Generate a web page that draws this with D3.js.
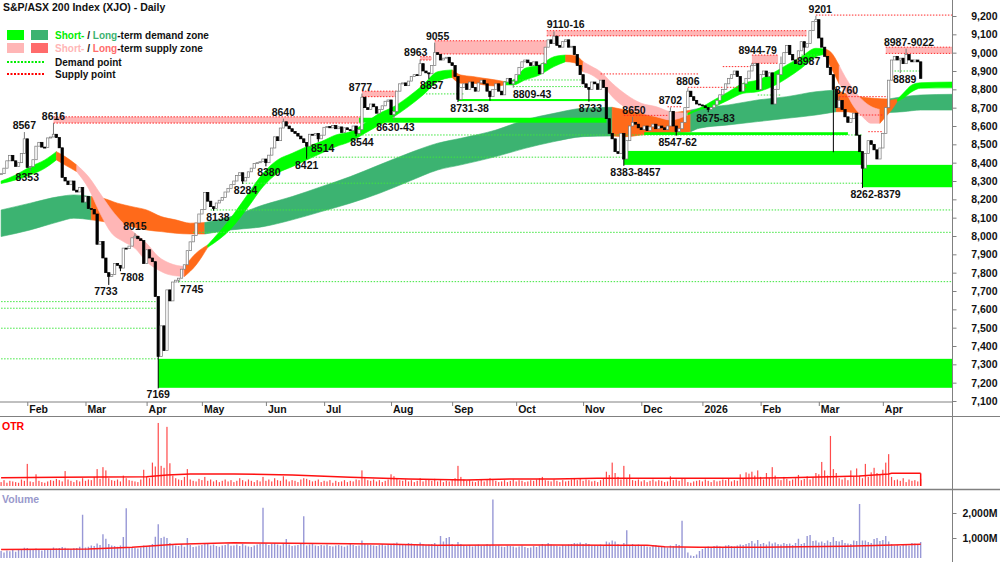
<!DOCTYPE html>
<html><head><meta charset="utf-8">
<script src="https://cdn.jsdelivr.net/npm/d3@7"></script>
<style>
body{margin:0;background:#fff;}
svg{display:block;font-family:Arial,"Liberation Sans",Helvetica,sans-serif;}
</style></head><body>
<svg id="c" width="1000" height="562"></svg>
<script>
// ---------------- DATA ----------------
const title = "S&P/ASX 200 Index (XJO) - Daily";
const monthLabels = ["Feb","Mar","Apr","May","Jun","Jul","Aug","Sep","Oct","Nov","Dec","2026","Feb","Mar","Apr"];
const monthIdx    = [9,29,50,69,91,111,134,155,177,200,220,241,261,281,303];
const priceTicks = [7100,7200,7300,7400,7500,7600,7700,7800,7900,8000,8100,8200,8300,8400,8500,8600,8700,8800,8900,9000,9100,9200];
const volTicks = [1000,2000];

// daily closes (trading-day index 0 = 20 Jan 2025)
const closes = [
8340,8370,8410,8440,8410,8380,8400,8450,8530,8374,
8379,8416,8490,8511,8485,8482,8535,8540,8555,8537,
8481,8320,8300,8280,8300,8250,8240,8265,8185,
8215,8150,8145,8120,7955,7970,7880,7800,7780,7790,7850,
7840,7825,7934,7931,7945,7990,7999,7985,7975,7850,
7925,7880,7860,7670,7343,7510,7375,7706,7646,7749,
7759,7770,7819,7843,7920,7968,8003,8071,8120,
8145,8238,8190,8160,8150,8180,8195,8210,8240,8260,8280,
8300,8330,8345,8300,8320,8350,8370,8395,8400,8405,8420,
8400,8441,8480,8541,8520,8589,8623,8600,8585,8570,
8560,8545,8530,8510,8490,8555,8550,8560,8530,8550,
8593,8597,8590,8603,8585,8595,8565,8590,8580,8575,
8600,8560,8580,8757,8700,8690,8720,8705,8670,8690,
8710,8735,8742,8662,8680,8790,8830,8835,8820,8845,
8870,8880,8875,8940,8900,8890,8885,8930,9000,8990,
8960,8970,8975,8945,8930,8870,8745,8810,8830,8800,
8840,8810,8790,8835,8850,8830,8790,8760,8800,8830,
8790,8770,8840,8860,8830,8845,8880,8920,8950,8960,
8945,8930,8950,8930,8885,8940,9030,9070,9050,9090,
9040,9030,9060,9070,9030,9035,8990,8930,8880,8830,
8810,8800,8840,8830,8800,8850,8810,8640,8560,8530,
8460,8450,8560,8420,8520,8600,8620,8610,8590,8580,
8600,8575,8595,8610,8585,8600,8590,8580,8600,8680,
8600,8570,8585,8620,8700,8790,8760,8740,8720,8715,
8710,8700,8690,8700,8715,8740,8770,8800,8830,8860,
8880,8900,8870,8790,8830,8860,8900,8930,8940,8800,
8880,8900,8870,8890,8720,8800,8880,8940,9000,9040,
8990,8960,8940,9010,9060,9030,9050,9120,9170,9180,
9080,9030,8980,8920,8880,8800,8700,8740,8690,8650,
8620,8640,8670,8550,8460,8370,8450,8520,8500,8470,
8420,8480,8560,8700,8850,8960,8980,8960,8970,8940,
8990,8960,8950,8960,8950,8860];

// notable wick extremes [index, low, high]
const extremes = [
[8,null,8567],[10,8353,null],[18,null,8616],[37,7733,null],[41,7808,null],[46,null,8015],
[54,7169,null],[61,7745,null],[73,8138,null],[83,8284,null],[91,8380,null],[97,null,8640],
[105,8421,null],[109,8514,null],[122,8544,null],[124,null,8777],[135,8630,null],[144,null,8963],
[147,8857,null],[149,null,9055],[157,8731,null],[168,8738,null],[176,8809,null],[190,null,9116],
[202,8733,null],[214,8383,null],[217,null,8650],[230,null,8702],[232,8547,null],[236,null,8806],
[243,8675,null],[258,null,8944],[268,null,8979],[276,8987,null],[280,null,9201],[286,8457,null],
[288,null,8760],[296,8262,null],[311,null,9022],[309,8889,null]];

// price annotations [text, index, value, side a=above b=below]
const annotations = [
["8567",8,8567,"a"],["8616",18,8616,"a"],["8353",9,8353,"b"],["8015",46,8015,"a"],["7733",36,7733,"b"],
["7808",45,7808,"b"],["7745",65.5,7745,"b"],["7169",54,7169,"b"],["8138",74.5,8138,"b"],["8284",84,8284,"b"],
["8380",92,8380,"b"],["8640",97,8640,"a"],["8421",105,8421,"b"],["8514",110.5,8514,"b"],["8544",124,8544,"b"],
["8777",123.5,8777,"a"],["8630-43",135.5,8630,"b"],["8963",142.5,8963,"a"],["8857",148,8857,"b"],["9055",150,9055,"a"],
["8731-38",161,8731,"b"],["8809-43",182.5,8809,"b"],["9110-16",194,9116,"a"],["8733",202.5,8733,"b"],["8650",217.5,8650,"a"],
["8383-8457",218,8383,"b"],["8702",230,8702,"a"],["8806",236,8806,"a"],["8547-62",232.5,8547,"b"],["8675-83",245.5,8675,"b"],
["8944-79",260,8979,"a"],["8987",277.5,8987,"b"],["9201",281.5,9201,"a"],["8760",290.5,8760,"a"],["8262-8379",300.5,8262,"b"],
["8987-9022",312,9022,"a"],["8889",310.5,8889,"b"]];

// short-term ribbon samples
const shortIdx = [0,5,10,15,19,22,26,30,34,38,42,46,50,54,58,63,67,71,79,85,90,95,100,105,110,115,120,125,130,135,140,145,150,155,158,162,166,170,173,176,180,185,190,194,197,200,203,206,210,215,220,225,230,236,240,245,250,255,260,265,270,275,280,283,285,288,290,293,296,299,302,304,306,308,310,313,316,327];
const shortTop = [8300,8333,8378,8415,8460,8433,8387,8324,8233,8142,8069,8015,7960,7888,7851,7833,7906,7951,8100,8233,8342,8415,8451,8487,8515,8551,8569,8615,8669,8706,8760,8824,8896,8906,8878,8870,8860,8851,8842,8851,8915,8933,8978,8987,8985,8951,8924,8896,8833,8769,8724,8706,8678,8670,8697,8742,8787,8833,8851,8887,8933,8978,9024,9020,9005,8930,8870,8797,8742,8706,8690,8733,8742,8745,8778,8824,8836,8840];
const shortBot = [8286,8306,8333,8369,8415,8387,8351,8260,8124,8015,7970,7933,7860,7815,7788,7779,7842,7938,8040,8160,8269,8342,8378,8415,8451,8487,8515,8560,8606,8651,8706,8769,8842,8865,8833,8833,8824,8818,8824,8824,8851,8878,8924,8951,8945,8896,8878,8842,8760,8697,8669,8651,8633,8660,8688,8706,8742,8778,8787,8815,8860,8915,8978,8990,8924,8830,8790,8706,8651,8615,8615,8651,8687,8735,8751,8787,8806,8808];
const shortState = "uuuu"+"nn"+"ddddddddd"+"nn"+"uuuuuuuuuuuuuuuu"+"nnnnn"+"uuuuu"+"nn"+"dddddddd"+"uuuuuuuuuu"+"nn"+"ddddd"+"nnn"+"uuuu";

// long-term ribbon samples
const longIdx = [0,10,20,25,31,35,40,45,50,55,60,65,70,79,90,100,110,120,130,140,150,158,170,180,190,200,210,215,220,225,230,237,240,250,260,270,280,287,290,295,300,305,310,316,327];
const longTop = [8142,8179,8215,8224,8215,8206,8179,8160,8142,8106,8088,8070,8073,8106,8169,8215,8269,8324,8388,8451,8506,8533,8578,8633,8669,8697,8702,8687,8678,8673,8673,8687,8697,8715,8742,8760,8787,8796,8778,8760,8751,8747,8760,8769,8773];
const longBot = [7997,8033,8079,8097,8088,8079,8069,8051,8033,8024,8015,8011,8011,8033,8051,8088,8133,8179,8233,8297,8360,8388,8433,8478,8515,8542,8546,8542,8551,8557,8560,8569,8588,8606,8624,8642,8660,8678,8678,8669,8669,8673,8678,8687,8687];
const longState = "uuuu"+"nnnnnnnn"+"uuuuuuuuuuuuuu"+"nnnnn"+"uuuuuu"+"nnnn"+"uuu";

// zones [startIdx, endIdx (null = open), low, high]
const supplyZones = [[18,124,8616,8650],[124,136,8760,8790],[144,148,8960,8978],[149,187.5,8993,9065],[187.5,276.8,9092,9120],[258,267,8942,8987],[304,null,8996,9030]];
const demandZones = [[54,null,7172,7330],[123,208,8618,8645],[157,208,8736,8747],[221,291,8551,8566],[214,296,8388,8464],[296,null,8266,8388]];
// points [startIdx, endIdx (null = open), value]
const supplyPoints = [[280,null,9205],[206,240,8884],[236,256,8811],[248,258,8924],[229,234,8705],[214,229,8658],[287,305.5,8760],[293,303,8660],[298,303,8569]];
const demandPoints = [[0,54,7642],[0,54,7606],[0,54,7497],[0,54,7330],[61,null,7751],[66,null,8020],[72,null,8142],[83,null,8288],[105,296,8430],[122,296,8551],[176,200,8851],[176,200,8815],[146,159,8775],[260,268,8769],[275,281,8987],[306,316,8900]];

// OTR (relative units) per day
const otr = [
6,9,5,8,7,6,5,10,8,34,7,6,18,8,6,5,7,9,8,11,
9,7,23,10,8,6,9,7,12,8,10,9,14,26,11,29,24,12,9,8,
10,7,16,12,9,8,7,6,10,25,14,12,36,30,97,31,28,91,35,16,
12,10,9,14,26,10,8,7,11,9,14,8,10,7,9,6,8,10,7,9,
6,8,12,9,7,10,8,6,9,7,14,8,10,7,12,9,8,15,10,7,
9,8,6,10,12,11,9,7,8,10,6,8,7,9,5,8,6,7,9,6,
8,7,10,9,24,12,9,8,10,7,9,6,8,10,18,15,12,9,8,10,
7,9,6,8,12,7,9,10,8,11,7,9,6,8,7,9,12,31,14,10,
8,9,7,6,8,10,7,9,12,10,8,6,7,9,6,8,10,7,9,8,
6,7,9,8,10,12,14,9,8,7,10,8,6,9,7,8,10,12,9,11,
8,10,9,7,8,6,9,11,22,17,36,20,14,10,31,12,18,9,8,10,
7,9,6,8,10,7,9,8,6,7,15,9,10,8,12,11,6,5,7,8,
9,7,10,8,6,9,7,8,10,9,11,7,9,8,18,12,21,19,22,16,
24,14,10,20,12,29,16,10,9,14,11,8,10,12,17,9,11,15,10,14,
20,18,37,24,16,77,26,20,12,10,13,9,24,15,27,16,12,34,14,21,
28,20,18,25,36,49,14,9,10,8,12,6,10,8,9,7,11];
const otrAvgIdx = [0,20,50,57,65,80,100,120,140,160,175,190,205,220,235,255,270,285,295,305,306,316];
const otrAvgVal = [12.8,13.3,14.4,17,18.5,18.5,16.9,13.3,10.8,9.2,10.8,10.8,11.8,11.8,11.8,11.8,12.8,14.4,15.4,18.5,19.5,19.5];

// volume (millions) per day
const volume = [
480,420,500,470,520,450,540,560,610,
600,560,540,580,530,500,520,560,550,620,580,600,640,610,570,560,590,600,650,1930,
620,650,700,680,780,720,1150,970,760,700,680,650,700,1040,2190,640,620,600,580,620,700,
650,700,760,1050,1550,1000,1050,1000,800,720,700,680,760,650,1000,720,640,660,700,
720,780,760,700,740,680,650,700,720,760,690,700,740,680,760,700,660,640,700,740,760,2210,
780,720,760,800,740,700,780,960,740,680,700,720,780,1870,700,740,760,700,680,720,
700,740,680,660,700,720,690,650,700,760,720,680,700,900,760,740,720,700,680,720,760,700,740,
760,780,820,760,740,720,800,780,760,740,820,760,720,740,760,800,720,1080,860,1000,1040,
760,720,840,760,700,680,720,660,700,740,680,700,760,720,2540,680,700,660,640,700,680,660,
620,660,700,640,600,620,680,640,700,760,720,800,740,700,680,660,720,700,740,760,800,780,820,
760,800,760,700,720,680,740,700,860,820,900,860,760,720,800,1310,720,760,700,740,
680,700,660,640,700,720,680,640,660,620,700,680,760,720,1690,620,420,300,280,340,480,
560,620,660,640,680,700,660,640,700,720,680,660,700,740,720,760,800,880,780,920,
760,800,740,860,780,820,760,740,800,760,780,720,800,970,760,800,1080,1120,880,900,
820,860,800,900,840,1040,880,860,920,800,780,760,900,880,2360,900,900,840,800,960,1000,880,
920,1080,860,760,700,720,680,760,740,700,800,780,760,840];
const volAvgIdx = [0,30,45,60,80,100,130,150,172,190,210,222,228,240,260,275,290,300,316];
const volAvgVal = [540,560,630,750,810,790,760,710,720,720,710,710,650,630,630,650,670,700,750];

// ---------------- CHART ----------------
const svg = d3.select("#c");
const plotRight = 952;
const x = d3.scaleLinear().domain([-0.378, 326.77]).range([0, plotRight]);
const xEnd = x.domain()[1];
const xi = i => x(i == null ? xEnd : i);
const y = d3.scaleLinear().domain([7100, 9200]).range([401, 16]);
const oy = d3.scaleLinear().domain([0, 100]).range([486, 421]);
const vy = d3.scaleLinear().domain([0, 2000]).range([563, 513]);

const defs = svg.append("defs");
defs.append("clipPath").attr("id","mainClip").append("rect").attr("x",0).attr("y",0).attr("width",plotRight).attr("height",402);
defs.append("clipPath").attr("id","otrClip").append("rect").attr("x",0).attr("y",417).attr("width",plotRight).attr("height",70);
defs.append("clipPath").attr("id","volClip").append("rect").attr("x",0).attr("y",490).attr("width",plotRight).attr("height",68);

const main = svg.append("g").attr("clip-path","url(#mainClip)");

// ribbons
const ribbonColors = {u:null, n:"#ff6a1a", d:"#ffb6b6"};
function runs(idx, top, bot, states){
  const out=[]; let cur=null;
  for(let k=0;k<idx.length-1;k++){
    const s=states[k];
    if(!cur || cur.s!==s){ cur={s, pts:[{i:idx[k],t:top[k],b:bot[k]}]}; out.push(cur); }
    cur.pts.push({i:idx[k+1],t:top[k+1],b:bot[k+1]});
  }
  return out;
}
const area = d3.area().x(d=>x(d.i)).y0(d=>y(d.b)).y1(d=>y(d.t)).curve(d3.curveMonotoneX);
function drawRibbon(idx, top, bot, states, upColor){
  const g = main.append("g");
  runs(idx, top, bot, states).forEach(r=>{
    const col = r.s==="u" ? upColor : ribbonColors[r.s];
    g.append("path").attr("d", area(r.pts)).attr("fill", col).attr("stroke", col).attr("stroke-width",0.6);
  });
}
drawRibbon(longIdx, longTop, longBot, longState, "#3cb371");
drawRibbon(shortIdx, shortTop, shortBot, shortState, "#00ff00");

// dotted point lines
const pointsG = main.append("g");
demandPoints.forEach(([a,b,v])=>{
  pointsG.append("line").attr("x1",xi(a)).attr("x2",xi(b)).attr("y1",y(v)).attr("y2",y(v))
    .attr("stroke","#3ee63e").attr("stroke-width",1).attr("stroke-dasharray","1.5,1.5");
});
supplyPoints.forEach(([a,b,v])=>{
  pointsG.append("line").attr("x1",xi(a)).attr("x2",xi(b)).attr("y1",y(v)).attr("y2",y(v))
    .attr("stroke","#ff2a2a").attr("stroke-width",1).attr("stroke-dasharray","1.5,1.5");
});

// zones
const zonesG = main.append("g");
supplyZones.forEach(([a,b,lo,hi])=>{
  zonesG.append("rect").attr("x",xi(a)).attr("width",xi(b)-xi(a)).attr("y",y(hi)).attr("height",y(lo)-y(hi)).attr("fill","#ffb6b6");
  [lo,hi].forEach(v=>zonesG.append("line").attr("x1",xi(a)).attr("x2",xi(b)).attr("y1",y(v)).attr("y2",y(v))
    .attr("stroke","#ff2a2a").attr("stroke-width",1).attr("stroke-dasharray","1.5,1.5"));
});
demandZones.forEach(([a,b,lo,hi])=>{
  zonesG.append("rect").attr("x",xi(a)).attr("width",xi(b)-xi(a)).attr("y",y(hi)).attr("height",Math.max(1.5,y(lo)-y(hi))).attr("fill","#00ff00");
});

// candles
const candles = closes.map((c,i)=>{ const o = i ? closes[i-1] : c; return {i,o,c,hi:Math.max(o,c),lo:Math.min(o,c)}; });
extremes.forEach(([i,l,h])=>{ const d=candles[i]; if(!d) return; if(l!=null) d.lo=Math.min(d.lo,l); if(h!=null) d.hi=Math.max(d.hi,h); });
const cg = main.append("g");
cg.selectAll("line").data(candles).join("line")
  .attr("x1",d=>x(d.i)).attr("x2",d=>x(d.i)).attr("y1",d=>y(d.hi)).attr("y2",d=>y(d.lo))
  .attr("stroke",d=>d.c>=d.o?"#7a7a7a":"#000").attr("stroke-width",1);
cg.selectAll("rect").data(candles).join("rect")
  .attr("x",d=>x(d.i)-1.2).attr("width",2.4)
  .attr("y",d=>y(Math.max(d.o,d.c))).attr("height",d=>Math.max(1,Math.abs(y(d.o)-y(d.c))))
  .attr("fill",d=>d.c>=d.o?"#fff":"#000").attr("stroke",d=>d.c>=d.o?"#7a7a7a":"#000").attr("stroke-width",0.7);

// annotations
const annG = svg.append("g").attr("font-size","10.5px").attr("font-weight","bold").attr("fill","#111").attr("text-anchor","middle");
annotations.forEach(([t,i,v,side])=>{
  annG.append("text").attr("x",x(i)).attr("y", side==="a" ? y(v)-3 : y(v)+10).text(t);
});

// ---------- axes & frame ----------
const frame = svg.append("g").attr("stroke","#808080");
frame.append("line").attr("x1",0).attr("x2",plotRight).attr("y1",402).attr("y2",402);
frame.append("line").attr("x1",0).attr("x2",1000).attr("y1",416.5).attr("y2",416.5).attr("stroke-width",1.2);
frame.append("line").attr("x1",0).attr("x2",1000).attr("y1",489.5).attr("y2",489.5).attr("stroke-width",1.5);
frame.append("line").attr("x1",plotRight+0.5).attr("x2",plotRight+0.5).attr("y1",0).attr("y2",562);

const yAx = svg.append("g").attr("transform",`translate(${plotRight+0.5},0)`)
  .call(d3.axisRight(y).tickValues(priceTicks).tickSize(4).tickFormat(d3.format(",")));
yAx.select(".domain").remove();
yAx.selectAll("line").attr("stroke","#808080");
yAx.selectAll("text").attr("x",45).attr("text-anchor","end").attr("font-size","10.5px").attr("font-weight","bold").attr("fill","#111").attr("font-family","Arial, Liberation Sans, sans-serif");

const xAx = svg.append("g").attr("transform","translate(0,402)")
  .call(d3.axisBottom(x).tickValues(monthIdx).tickSize(4).tickFormat((d,k)=>monthLabels[k]));
xAx.select(".domain").remove();
xAx.selectAll("line").attr("stroke","#808080");
xAx.selectAll("text").attr("x",1.5).attr("y",4).attr("text-anchor","start").attr("font-size","10.5px").attr("font-weight","bold").attr("fill","#111").attr("font-family","Arial, Liberation Sans, sans-serif");

const vAx = svg.append("g").attr("transform",`translate(${plotRight+0.5},0)`)
  .call(d3.axisRight(vy).tickValues(volTicks).tickSize(4).tickFormat(d=>d3.format(",")(d)+"M"));
vAx.select(".domain").remove();
vAx.selectAll("line").attr("stroke","#808080");
vAx.selectAll("text").attr("x",45).attr("text-anchor","end").attr("font-size","10.5px").attr("font-weight","bold").attr("fill","#111").attr("font-family","Arial, Liberation Sans, sans-serif");

// ---------- OTR panel ----------
const og = svg.append("g").attr("clip-path","url(#otrClip)");
og.selectAll("rect").data(otr.slice(0,closes.length)).join("rect")
  .attr("x",(d,i)=>x(i)-0.6).attr("width",1.2).attr("y",d=>oy(d)).attr("height",d=>oy(0)-oy(d)).attr("fill","#ff4a4a");
const otrAvg = otrAvgIdx.map((i,k)=>({i,v:otrAvgVal[k]}));
og.append("path").attr("d",d3.line().x(d=>x(d.i)).y(d=>oy(d.v))(otrAvg)).attr("fill","none").attr("stroke","#ff1010").attr("stroke-width",1.5);
const lastO = otrAvg[otrAvg.length-1];
og.append("line").attr("x1",x(lastO.i)).attr("x2",x(lastO.i)).attr("y1",oy(lastO.v)).attr("y2",oy(0)).attr("stroke","#ff1010").attr("stroke-width",1.5);
svg.append("text").attr("x",2).attr("y",430).text("OTR").attr("fill","#ff0000").attr("font-size","10.5px").attr("font-weight","bold");

// ---------- Volume panel ----------
const vg = svg.append("g").attr("clip-path","url(#volClip)");
vg.selectAll("rect").data(volume.slice(0,closes.length)).join("rect")
  .attr("x",(d,i)=>x(i)-0.7).attr("width",1.4).attr("y",d=>vy(d)).attr("height",d=>Math.max(0,558-vy(d))).attr("fill","#9898d6");
const volAvg = volAvgIdx.map((i,k)=>({i,v:volAvgVal[k]}));
vg.append("path").attr("d",d3.line().x(d=>x(d.i)).y(d=>vy(d.v))(volAvg)).attr("fill","none").attr("stroke","#ff1a1a").attr("stroke-width",1.5);
svg.append("text").attr("x",2).attr("y",503).text("Volume").attr("fill","#9999cc").attr("font-size","10.5px").attr("font-weight","bold");

// ---------- title & legend ----------
const lg = svg.append("g").attr("font-size","10px").attr("font-weight","bold");
lg.append("text").attr("x",3).attr("y",11).text(title).attr("fill","#111").attr("font-size","10.5px");
lg.append("rect").attr("x",7).attr("y",30).attr("width",17).attr("height",10).attr("fill","#00ff00");
lg.append("rect").attr("x",31).attr("y",30).attr("width",17).attr("height",10).attr("fill","#3cb371");
lg.append("rect").attr("x",7).attr("y",43).attr("width",17).attr("height",10).attr("fill","#ffb6b6");
lg.append("rect").attr("x",31).attr("y",43).attr("width",17).attr("height",10).attr("fill","#ff6b6b");
const t1 = lg.append("text").attr("x",55).attr("y",39);
t1.append("tspan").text("Short-").attr("fill","#00ee00");
t1.append("tspan").text(" / ").attr("fill","#111");
t1.append("tspan").text("Long").attr("fill","#3cb371");
t1.append("tspan").text("-term demand zone").attr("fill","#111");
const t2 = lg.append("text").attr("x",55).attr("y",52);
t2.append("tspan").text("Short-").attr("fill","#ffb6b6");
t2.append("tspan").text(" / ").attr("fill","#111");
t2.append("tspan").text("Long").attr("fill","#ff6b6b");
t2.append("tspan").text("-term supply zone").attr("fill","#111");
lg.append("line").attr("x1",7).attr("x2",44).attr("y1",62).attr("y2",62).attr("stroke","#00ee00").attr("stroke-width",2).attr("stroke-dasharray","2,1.5");
lg.append("text").attr("x",55).attr("y",65.5).text("Demand point").attr("fill","#111");
lg.append("line").attr("x1",7).attr("x2",44).attr("y1",74).attr("y2",74).attr("stroke","#ff0000").attr("stroke-width",2).attr("stroke-dasharray","2,1.5");
lg.append("text").attr("x",55).attr("y",77.5).text("Supply point").attr("fill","#111");
</script>
</body></html>
